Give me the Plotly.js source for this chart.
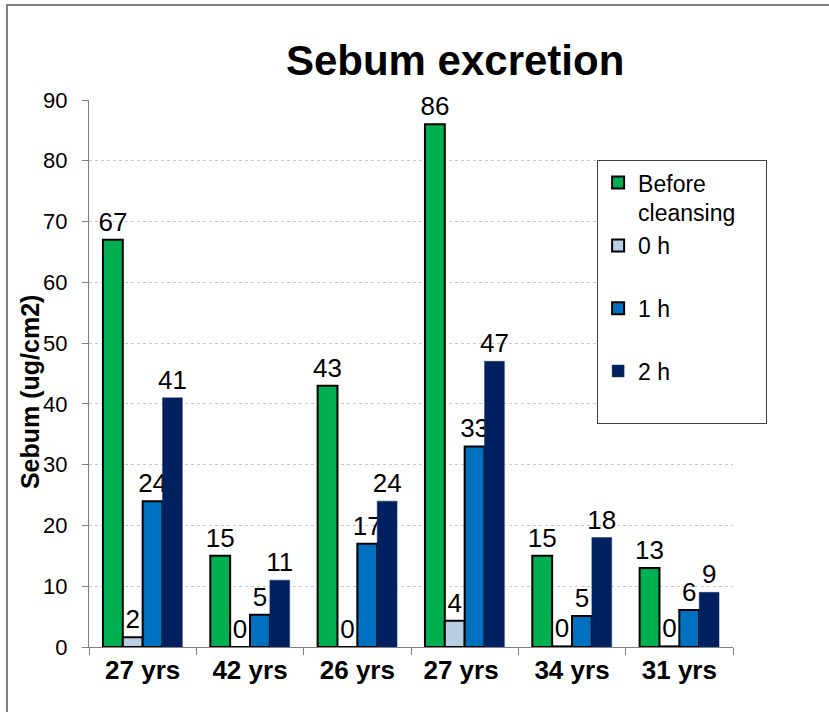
<!DOCTYPE html>
<html>
<head>
<meta charset="utf-8">
<script src="https://cdn.plot.ly/plotly-3.0.1.min.js"></script>
<style>
  html, body { margin: 0; padding: 0; background: #fff; }
  #wrap { position: relative; width: 829px; height: 712px; }
  #chart { position: absolute; left: 0; top: 0; width: 829px; height: 712px; }
  #frame { position: absolute; left: 6px; top: 4px; width: 840px; height: 720px;
           border-left: 2px solid #808080; border-top: 2px solid #808080; pointer-events: none; }
</style>
</head>
<body>
<div id="wrap"><div id="chart"></div><div id="frame"></div></div>
<script>
// Data
const categories = ["27 yrs", "42 yrs", "26 yrs", "27 yrs ", "34 yrs", "31 yrs"];
const seriesNames = ["Before<br>cleansing\u00A0\u00A0\u00A0\u00A0", "0 h<br> ", "1 h<br> ", "2 h<br> "];
const beforeCleansing = [67, 15, 43, 86, 15, 13];
const h0 = [1.6, 0, 0, 4.3, 0.1, 0.1];
const h1 = [24, 5.3, 17, 33, 5.1, 6.1];
const h2 = [41, 11, 24, 47, 18, 9];
const yTicks = [0, 10, 20, 30, 40, 50, 60, 70, 80, 90];
const yTitle = "Sebum (ug/cm2)";

const colors = ["#00B050", "#B9CDE5", "#0070C0", "#002060"];
const lineColors = ["#000000", "#000000", "#000000", "#1F3A70"];
const lineWidths = [2, 2, 2, 0.5];
const allSeries = [beforeCleansing, h0, h1, h2];

const FONT = "Arial, 'Liberation Sans', sans-serif";

const traces = allSeries.map((vals, i) => ({
  type: "bar",
  name: seriesNames[i],
  x: categories,
  y: vals,
  marker: { color: colors[i], line: { color: lineColors[i], width: lineWidths[i] } },
  text: vals,
  texttemplate: "%{y:.0f}",
  textposition: "outside",
  constraintext: "none",
  cliponaxis: false,
  textfont: { family: FONT, size: 26, color: "#000" },
  hoverinfo: "y"
}));

const layout = {
  width: 829,
  height: 712,
  margin: { l: 89, r: 96, t: 100, b: 65 },
  paper_bgcolor: "#ffffff",
  plot_bgcolor: "#ffffff",
  barmode: "group",
  bargap: 0.26,
  bargroupgap: 0,
  font: { family: FONT, color: "#000" },
  title: {
    text: "<b>Sebum excretion</b>",
    font: { family: FONT, size: 42, color: "#000" },
    x: 0.549, xref: "container", xanchor: "center",
    y: 0.915, yref: "container", yanchor: "middle"
  },
  xaxis: {
    type: "category",
    tickson: "boundaries",
    ticks: "outside",
    ticklen: 7,
    tickcolor: "#808080",
    showline: true,
    linecolor: "#808080",
    linewidth: 1,
    showgrid: false,
    tickfont: { family: FONT, size: 26, color: "#000", weight: "bold" },
    tickangle: 0
  },
  yaxis: {
    range: [0, 90],
    tickvals: yTicks,
    ticktext: yTicks.map(String),
    ticks: "outside",
    ticklen: 6,
    tickcolor: "#808080",
    showline: true,
    linecolor: "#808080",
    linewidth: 1,
    showgrid: true,
    gridcolor: "#C8C8C8",
    griddash: "dot",
    gridwidth: 1,
    zeroline: false,
    ticklabelstandoff: 10,
    tickfont: { family: FONT, size: 22, color: "#000" }
  },
  annotations: [{
    text: "<b>" + yTitle + "</b>",
    textangle: -90,
    xref: "paper", yref: "paper",
    x: -0.0916, y: 0.466,
    xanchor: "center", yanchor: "middle",
    showarrow: false,
    font: { family: FONT, size: 25, color: "#000" }
  }],
  legend: {
    x: 0.789, y: 0.890, xanchor: "left", yanchor: "top",
    bgcolor: "#ffffff",
    bordercolor: "#404040",
    borderwidth: 1,
    valign: "top",
    font: { family: FONT, size: 23, color: "#000" },
    itemwidth: 30,
    traceorder: "normal"
  },
  showlegend: true
};

Plotly.newPlot("chart", traces, layout, { displayModeBar: false, staticPlot: true });
</script>
</body>
</html>
